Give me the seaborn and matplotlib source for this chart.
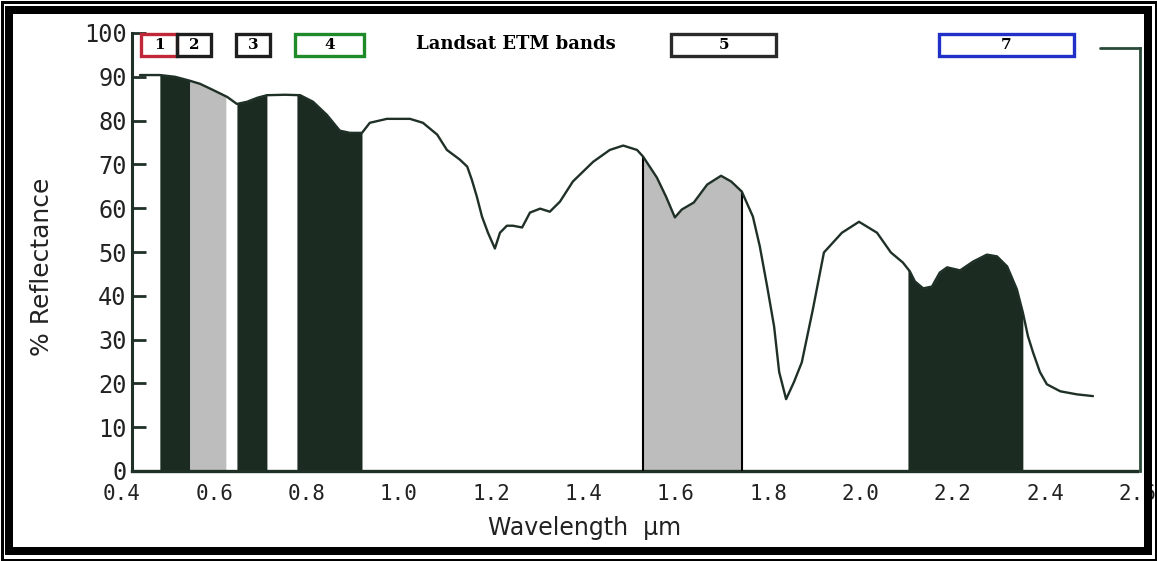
import numpy as np
import pandas as pd
import matplotlib
matplotlib.use("Agg")
import matplotlib.pyplot as plt
import seaborn as sns
from matplotlib.patches import Rectangle

# ---------------- data ----------------
wavelength = [0.439, 0.482, 0.515, 0.547, 0.569, 0.597, 0.628, 0.649, 0.671, 0.693,
              0.714, 0.753, 0.786, 0.814, 0.844, 0.872, 0.894, 0.920, 0.937, 0.974,
              1.024, 1.052, 1.083, 1.104, 1.132, 1.148, 1.158, 1.169, 1.180, 1.193,
              1.208, 1.219, 1.234, 1.247, 1.267, 1.284, 1.306, 1.327, 1.349, 1.377,
              1.421, 1.457, 1.486, 1.516, 1.529, 1.559, 1.579, 1.598, 1.613, 1.639,
              1.668, 1.698, 1.720, 1.743, 1.767, 1.782, 1.798, 1.813, 1.824, 1.839,
              1.856, 1.873, 1.897, 1.921, 1.960, 1.997, 2.036, 2.066, 2.092, 2.107,
              2.118, 2.136, 2.155, 2.172, 2.188, 2.216, 2.244, 2.274, 2.296, 2.318,
              2.339, 2.352, 2.363, 2.374, 2.389, 2.404, 2.433, 2.469, 2.504]
reflectance = [90.4, 90.4, 90.0, 89.1, 88.4, 87.0, 85.4, 83.8, 84.3, 85.2,
               85.8, 85.9, 85.8, 84.3, 81.3, 77.7, 77.2, 77.2, 79.5, 80.4,
               80.4, 79.5, 76.8, 73.3, 71.1, 69.5, 66.5, 62.6, 58.1, 54.4,
               50.8, 54.4, 56.0, 56.0, 55.6, 59.0, 59.9, 59.2, 61.5, 66.1,
               70.6, 73.3, 74.3, 73.3, 71.8, 67.0, 62.6, 57.9, 59.7, 61.3,
               65.4, 67.4, 66.1, 63.8, 58.1, 51.3, 42.1, 33.0, 22.6, 16.4,
               20.3, 24.8, 36.9, 49.9, 54.4, 56.9, 54.4, 49.9, 47.6, 45.6,
               43.3, 41.7, 42.1, 45.3, 46.5, 45.8, 47.8, 49.4, 49.0, 46.7,
               41.5, 36.2, 30.8, 27.1, 22.6, 19.8, 18.2, 17.5, 17.1]

band_names = ["1", "2", "3", "4", "5", "7"]
band_start = [0.482, 0.547, 0.649, 0.779, 1.529, 2.103]
band_end = [0.547, 0.625, 0.714, 0.920, 1.743, 2.352]
band_shade = ["dark", "gray", "dark", "dark", "gray", "dark"]

box_start = [0.442, 0.519, 0.648, 0.774, 1.590, 2.170]
box_end = [0.519, 0.592, 0.720, 0.925, 1.817, 2.463]
box_edge = ["#c0283a", "#1e1e1e", "#1e1e1e", "#1f8a2a", "#2a2a2a", "#2030c8"]

x_ticks = [0.4, 0.6, 0.8, 1.0, 1.2, 1.4, 1.6, 1.8, 2.0, 2.2, 2.4, 2.6]
x_tick_labels = ["0.4", "0.6", "0.8", "1.0", "1.2", "1.4", "1.6", "1.8",
                 "2.0", "2.2", "2.4", "2.6"]
y_ticks = [0, 10, 20, 30, 40, 50, 60, 70, 80, 90, 100]
y_tick_labels = ["0", "10", "20", "30", "40", "50", "60", "70", "80", "90", "100"]

# ---------------- styling ----------------
DARK = "#1c2b22"
GRAY = "#bdbdbd"
LINE = "#1f3027"

sns.set_theme(style="white")
plt.rcParams["font.family"] = ["DejaVu Sans"]

W, H = 1157, 561
fig = plt.figure(figsize=(W / 100, H / 100), dpi=100)
fig.patch.set_facecolor("white")

# axes placement (pixels -> figure fraction)
xlim = (0.39, 2.64)
px_per_um = 461.5
x0_px = 122 - (0.4 - xlim[0]) * px_per_um
x1_px = 122 + (xlim[1] - 0.4) * px_per_um
y0_px, y1_px = 471, 33
ax = fig.add_axes([x0_px / W, (H - y0_px) / H, (x1_px - x0_px) / W, (y0_px - y1_px) / H])
ax.set_facecolor("none")

df = pd.DataFrame({"Wavelength": wavelength, "Reflectance": reflectance})
wl = np.array(wavelength)
rf = np.array(reflectance)

# band shading under the curve
for name, a, b, shade in zip(band_names, band_start, band_end, band_shade):
    inner = [w for w in wavelength if a < w < b]
    xs = np.array([a] + inner + [b])
    ys = np.interp(xs, wl, rf)
    ax.fill_between(xs, 0, ys, color=DARK if shade == "dark" else GRAY,
                    lw=0, zorder=2)
    if name == "5":
        ax.vlines([a, b], 0, np.interp([a, b], wl, rf), color="black", lw=1.5, zorder=3)

sns.lineplot(data=df, x="Wavelength", y="Reflectance", color=LINE, lw=1.7,
             ax=ax, zorder=5)

ax.set_xlim(*xlim)
ax.set_ylim(0, 100)

# spines
ax.spines["top"].set_visible(False)
ax.spines["left"].set_position(("data", 0.422))
ax.spines["left"].set_bounds(0, 100)
ax.spines["left"].set_color(LINE)
ax.spines["left"].set_linewidth(2.2)
ax.spines["bottom"].set_bounds(0.422, 2.60)
ax.spines["bottom"].set_color(LINE)
ax.spines["bottom"].set_linewidth(2.4)
ax.spines["right"].set_position(("data", 2.606))
ax.spines["right"].set_bounds(0, 96.6)
ax.spines["right"].set_color("#2a4a38")
ax.spines["right"].set_linewidth(2.0)
ax.plot([2.519, 2.606], [96.6, 96.6], color="#2a4a38", lw=2.0, clip_on=False, zorder=5)

# ticks
ax.set_xticks(x_ticks)
ax.set_xticklabels(x_tick_labels, family="DejaVu Sans Mono", fontsize=15, color="#222222")
ax.set_yticks(y_ticks)
ax.set_yticklabels(y_tick_labels, family="DejaVu Sans Mono", fontsize=17, color="#222222")
ax.tick_params(axis="x", length=0, pad=9)
ax.tick_params(axis="y", direction="in", length=10, width=2, color=LINE, pad=4,
               left=True)

# axis labels
ax.set_xlabel("Wavelength  \u03bcm", fontsize=17, color="#222222")
ax.xaxis.set_label_coords((585 - x0_px) / (x1_px - x0_px), -(516 - y0_px) / (y0_px - y1_px))
ax.set_ylabel("% Reflectance", fontsize=18, color="#222222")
ax.yaxis.set_label_coords((54 - x0_px) / (x1_px - x0_px), (y0_px - 267) / (y0_px - y1_px))

# band boxes at the top
for name, a, b, ec in zip(band_names, box_start, box_end, box_edge):
    ax.add_patch(Rectangle((a, 94.7), b - a, 5.1, fill=False, edgecolor=ec, lw=2.4,
                           clip_on=False, zorder=6))
    ax.text((a + b) / 2, 97.25, name, ha="center", va="center", fontsize=11,
            fontweight="bold", family="DejaVu Serif", color="black", zorder=7,
            clip_on=False)
ax.text(1.254, 97.6, "Landsat ETM bands", ha="center", va="center", fontsize=13,
        fontweight="bold", family="DejaVu Serif", color="black", clip_on=False)

# picture frame
def frame(x_in, y_in, lw_px, color="black"):
    fig.add_artist(Rectangle((x_in / W, y_in / H), 1 - 2 * x_in / W, 1 - 2 * y_in / H,
                             transform=fig.transFigure, fill=False, edgecolor=color,
                             lw=lw_px * 0.72, zorder=20))

frame(1.5, 1.5, 3)
frame(9, 10, 8)

fig.savefig("out.png", dpi=100, facecolor="white")
